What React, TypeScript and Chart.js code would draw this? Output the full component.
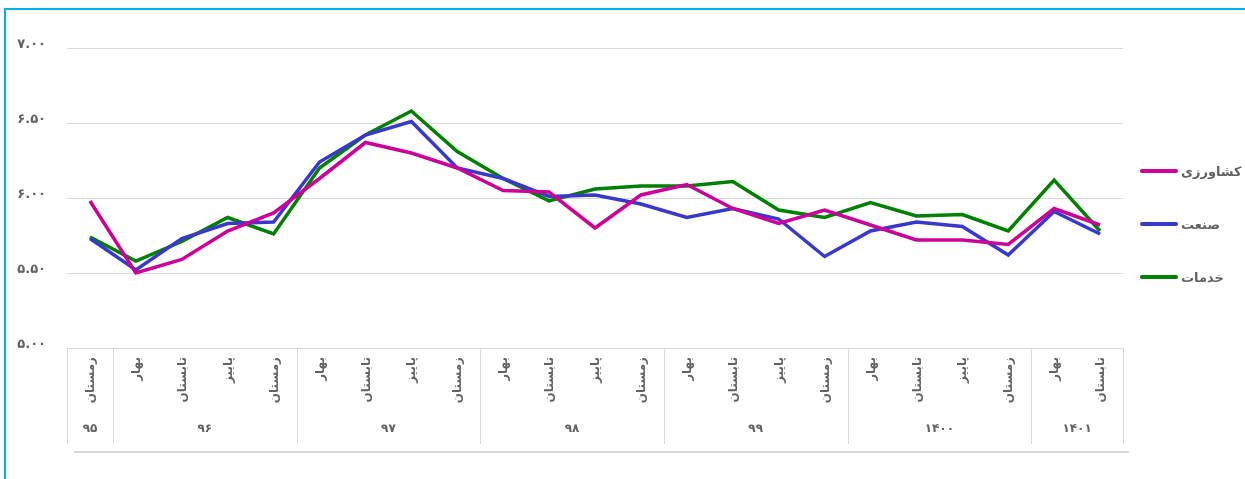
import React, { useEffect, useRef } from "react";
import { Chart, registerables } from "chart.js";

Chart.register(...registerables);

const seasons = [
  "زمستان",
  "بهار", "تابستان", "پاییز", "زمستان",
  "بهار", "تابستان", "پاییز", "زمستان",
  "بهار", "تابستان", "پاییز", "زمستان",
  "بهار", "تابستان", "پاییز", "زمستان",
  "بهار", "تابستان", "پاییز", "زمستان",
  "بهار", "تابستان",
];
const years = ["۹۵", "۹۶", "۹۷", "۹۸", "۹۹", "۱۴۰۰", "۱۴۰۱"];
const yearSizes = [1, 4, 4, 4, 4, 4, 2];

const agriculture = [5.98, 5.5, 5.59, 5.78, 5.9, 6.13, 6.37, 6.3, 6.2, 6.05, 6.04, 5.8, 6.02, 6.09, 5.93, 5.83, 5.92, 5.82, 5.72, 5.72, 5.69, 5.93, 5.82];
const industry = [5.73, 5.52, 5.73, 5.83, 5.84, 6.24, 6.42, 6.51, 6.2, 6.13, 6.01, 6.02, 5.96, 5.87, 5.93, 5.86, 5.61, 5.78, 5.84, 5.81, 5.62, 5.91, 5.76];
const services = [5.74, 5.58, 5.71, 5.87, 5.76, 6.2, 6.42, 6.58, 6.31, 6.13, 5.98, 6.06, 6.08, 6.08, 6.11, 5.92, 5.87, 5.97, 5.88, 5.89, 5.78, 6.12, 5.78];

const seriesNames = ["کشاورزی", "صنعت", "خدمات"];
const seriesColors = ["#CC0099", "#3838CC", "#008000"];
const yTickLabels: Record<string, string> = {
  "5": "۵.۰۰",
  "5.5": "۵.۵۰",
  "6": "۶.۰۰",
  "6.5": "۶.۵۰",
  "7": "۷.۰۰",
};

const FONT = "'DejaVu Sans', sans-serif";
const TEXT = "#626262";
const GRID = "#d9d9d9";

const customAxisPlugin = {
  id: "customAxis",
  afterDraw(chart: any) {
    const ctx = chart.ctx as CanvasRenderingContext2D;
    const x = chart.scales.x;
    const area = chart.chartArea;
    const half = (x.getPixelForValue(1) - x.getPixelForValue(0)) / 2;
    const top = area.bottom;
    const sepBottom = top + 96;
    ctx.save();
    ctx.strokeStyle = GRID;
    ctx.lineWidth = 1;
    let idx = 0;
    const bounds: number[] = [];
    bounds.push(x.getPixelForValue(0) - half);
    yearSizes.forEach((n) => {
      idx += n;
      bounds.push(x.getPixelForValue(idx - 1) + half);
    });
    bounds.forEach((b) => {
      ctx.beginPath();
      ctx.moveTo(Math.round(b) + 0.5, top);
      ctx.lineTo(Math.round(b) + 0.5, sepBottom);
      ctx.stroke();
    });
    ctx.lineWidth = 2;
    ctx.beginPath();
    ctx.moveTo(bounds[0] + 7, sepBottom + 8);
    ctx.lineTo(bounds[bounds.length - 1] + 6, sepBottom + 8);
    ctx.stroke();

    ctx.fillStyle = TEXT;
    ctx.font = `bold 12px ${FONT}`;
    seasons.forEach((s, i) => {
      const px = x.getPixelForValue(i);
      ctx.save();
      ctx.translate(px + 1, top + 9);
      ctx.rotate(-Math.PI / 2);
      ctx.textAlign = "right";
      ctx.textBaseline = "middle";
      ctx.fillText(s, 0, 0);
      ctx.restore();
    });
    ctx.font = `bold 12px ${FONT}`;
    ctx.textAlign = "center";
    ctx.textBaseline = "middle";
    years.forEach((y, k) => {
      const cx = (bounds[k] + bounds[k + 1]) / 2;
      ctx.fillText(y, cx, top + 81);
    });

    const legendX = area.right + 17;
    const legendYs = [171, 224, 277];
    seriesNames.forEach((name, i) => {
      const ly = legendYs[i];
      ctx.strokeStyle = seriesColors[i];
      ctx.lineWidth = 4;
      ctx.lineCap = "round";
      ctx.beginPath();
      ctx.moveTo(legendX + 2, ly);
      ctx.lineTo(legendX + 36, ly);
      ctx.stroke();
      ctx.fillStyle = TEXT;
      ctx.font = `bold 13px ${FONT}`;
      ctx.textAlign = "left";
      ctx.textBaseline = "middle";
      ctx.fillText(name, legendX + 41, ly + 2);
    });
    ctx.restore();
  },
};

export default function App() {
  const ref = useRef<HTMLCanvasElement | null>(null);
  useEffect(() => {
    if (!ref.current) return;
    const chart = new Chart(ref.current, {
      type: "line",
      data: {
        labels: seasons,
        datasets: [agriculture, industry, services].map((d, i) => ({
          label: seriesNames[i],
          data: d,
          borderColor: seriesColors[i],
          backgroundColor: seriesColors[i],
          borderWidth: 3.5,
          pointRadius: 0,
          tension: 0,
          fill: false,
        })),
      },
      options: {
        responsive: false,
        animation: false,
        layout: { padding: { left: 0, right: 122, top: 48, bottom: 131 } },
        plugins: {
          legend: { display: false },
          tooltip: { enabled: false },
        },
        scales: {
          x: {
            type: "category",
            display: false,
            offset: true,
          },
          y: {
            min: 5,
            max: 7,
            afterFit: (scale: any) => {
              scale.width = 67;
            },
            border: { display: false },
            grid: { color: GRID, lineWidth: 1, drawTicks: false },
            ticks: {
              stepSize: 0.5,
              padding: 21,
              labelOffset: -3,
              color: TEXT,
              font: { family: FONT, size: 13, weight: "bold" },
              callback: (v: any) => yTickLabels[String(v)] ?? String(v),
            },
          },
        },
      },
      plugins: [customAxisPlugin],
    });
    return () => chart.destroy();
  }, []);

  return (
    <div
      style={{
        position: "fixed",
        left: 0,
        top: 0,
        width: 1245,
        height: 479,
        overflow: "hidden",
        background: "#fff",
      }}
    >
      <div
        style={{
          position: "absolute",
          left: 4,
          top: 8,
          width: 1400,
          height: 700,
          border: "2px solid #00B0F0",
          boxSizing: "border-box",
        }}
      />
      <canvas
        ref={ref}
        width={1245}
        height={479}
        style={{ position: "absolute", left: 0, top: 0, display: "block" }}
      />
    </div>
  );
}
